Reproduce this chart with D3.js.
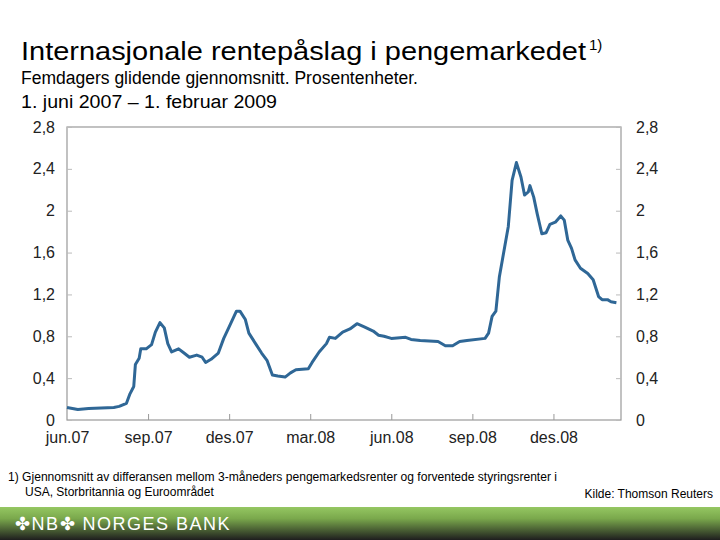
<!DOCTYPE html><html><head><meta charset="utf-8"><script src="https://cdn.jsdelivr.net/npm/d3@7"></script>
<style>body{margin:0;background:#fff}text{font-family:"Liberation Sans",Arial,sans-serif}</style></head><body>
<svg id="c" width="720" height="540"></svg>
<script>
const monthIdx=[0.00,0.40,0.80,1.73,1.93,2.20,2.33,2.47,2.53,2.67,2.73,2.93,3.13,3.27,3.44,3.60,3.73,3.87,4.13,4.33,4.53,4.80,5.00,5.13,5.33,5.60,5.80,6.00,6.27,6.40,6.60,6.73,7.00,7.20,7.40,7.60,7.80,8.07,8.27,8.47,8.93,9.07,9.33,9.60,9.71,9.93,10.20,10.47,10.73,11.00,11.33,11.53,11.73,12.00,12.53,12.73,13.07,13.73,14.00,14.27,14.53,14.80,15.47,15.60,15.73,15.87,16.00,16.11,16.20,16.33,16.47,16.63,16.80,16.93,17.07,17.13,17.27,17.40,17.57,17.73,17.87,18.07,18.27,18.40,18.53,18.67,18.80,19.00,19.27,19.47,19.67,19.80,20.00,20.13,20.33];
const spread=[0.12,0.10,0.11,0.12,0.13,0.16,0.25,0.32,0.53,0.59,0.68,0.68,0.72,0.84,0.93,0.88,0.73,0.65,0.68,0.64,0.60,0.62,0.60,0.55,0.58,0.64,0.78,0.89,1.04,1.04,0.96,0.83,0.72,0.64,0.57,0.43,0.42,0.41,0.45,0.48,0.49,0.55,0.65,0.73,0.79,0.78,0.84,0.87,0.92,0.89,0.85,0.81,0.80,0.78,0.79,0.77,0.76,0.75,0.71,0.71,0.75,0.76,0.78,0.83,0.99,1.04,1.37,1.53,1.66,1.85,2.29,2.46,2.32,2.15,2.18,2.24,2.13,1.97,1.78,1.79,1.87,1.89,1.95,1.91,1.72,1.64,1.53,1.45,1.40,1.34,1.18,1.15,1.15,1.13,1.12];
const xTickIdx=[0,3,6,9,12,15,18];
const xTickLabels=["jun.07","sep.07","des.07","mar.08","jun.08","sep.08","des.08"];
const yTicks=[0,0.4,0.8,1.2,1.6,2,2.4,2.8];
const svg=d3.select("#c");
const L=67,R=621,T=127,B=420;
const x=d3.scaleLinear().domain([0,20.5]).range([L,R]);
const y=d3.scaleLinear().domain([0,2.8]).range([B,T]);
const fmt=v=>String(v).replace(".",",");
svg.append("rect").attr("x",L).attr("y",T).attr("width",R-L).attr("height",B-T).attr("fill","none").attr("stroke","#999").attr("stroke-width",1.2);
svg.append("g").attr("transform",`translate(0,${B})`).call(d3.axisBottom(x).tickValues(xTickIdx).tickFormat((d,i)=>xTickLabels[i]).tickSize(-6).tickPadding(12))
 .call(g=>{g.select(".domain").remove();g.selectAll("line").attr("stroke","#999");g.selectAll("line").filter(d=>d===0).remove();g.selectAll("text").attr("font-size",16).attr("fill","#222")});
svg.append("g").attr("transform",`translate(${L},0)`).call(d3.axisLeft(y).tickValues(yTicks).tickFormat(fmt).tickSize(-5).tickPadding(12))
 .call(g=>{g.select(".domain").remove();g.selectAll("line").attr("stroke","#bbb");g.selectAll("text").attr("font-size",16).attr("fill","#222")});
svg.append("g").attr("transform",`translate(${R},0)`).call(d3.axisRight(y).tickValues(yTicks).tickFormat(fmt).tickSize(-5).tickPadding(15))
 .call(g=>{g.select(".domain").remove();g.selectAll("line").attr("stroke","#bbb");g.selectAll("text").attr("font-size",16).attr("fill","#222")});
svg.append("path").datum(monthIdx.map((m,i)=>[m,spread[i]])).attr("fill","none").attr("stroke","#2f6796").attr("stroke-width",3).attr("stroke-linejoin","round")
 .attr("d",d3.line().x(d=>x(d[0])).y(d=>y(d[1])));
const t=(s,xx,yy,sz,anchor,len)=>{const e=svg.append("text").attr("x",xx).attr("y",yy).attr("font-size",sz).attr("fill","#000").attr("text-anchor",anchor||"start").text(s);if(len)e.attr("textLength",len).attr("lengthAdjust","spacingAndGlyphs");return e;};
t("Internasjonale rentepåslag i pengemarkedet",21,60,25,"start",565);
t("1)",589,50,15);
t("Femdagers glidende gjennomsnitt. Prosentenheter.",21,84,18,"start",397);
t("1. juni 2007 – 1. februar 2009",21,108,18,"start",256);
t("1)  Gjennomsnitt av differansen mellom 3-måneders pengemarkedsrenter og forventede styringsrenter i",8,481,12,"start",549);
t("USA, Storbritannia og Euroområdet",25,496,12);
t("Kilde: Thomson Reuters",713,498,12,"end");
const gr=svg.append("defs").append("linearGradient").attr("id","bg").attr("x1",0).attr("y1",0).attr("x2",0).attr("y2",1);
gr.append("stop").attr("offset","0").attr("stop-color","#95c762");
gr.append("stop").attr("offset","0.35").attr("stop-color","#7aa84c");
gr.append("stop").attr("offset","1").attr("stop-color","#1e1e1e");
svg.append("rect").attr("x",0).attr("y",507).attr("width",720).attr("height",33).attr("fill","url(#bg)");
svg.append("text").attr("x",15).attr("y",530).attr("font-size",18).attr("fill","#fff").attr("letter-spacing",1.5).text("✤NB✤ NORGES BANK");
</script></body></html>
